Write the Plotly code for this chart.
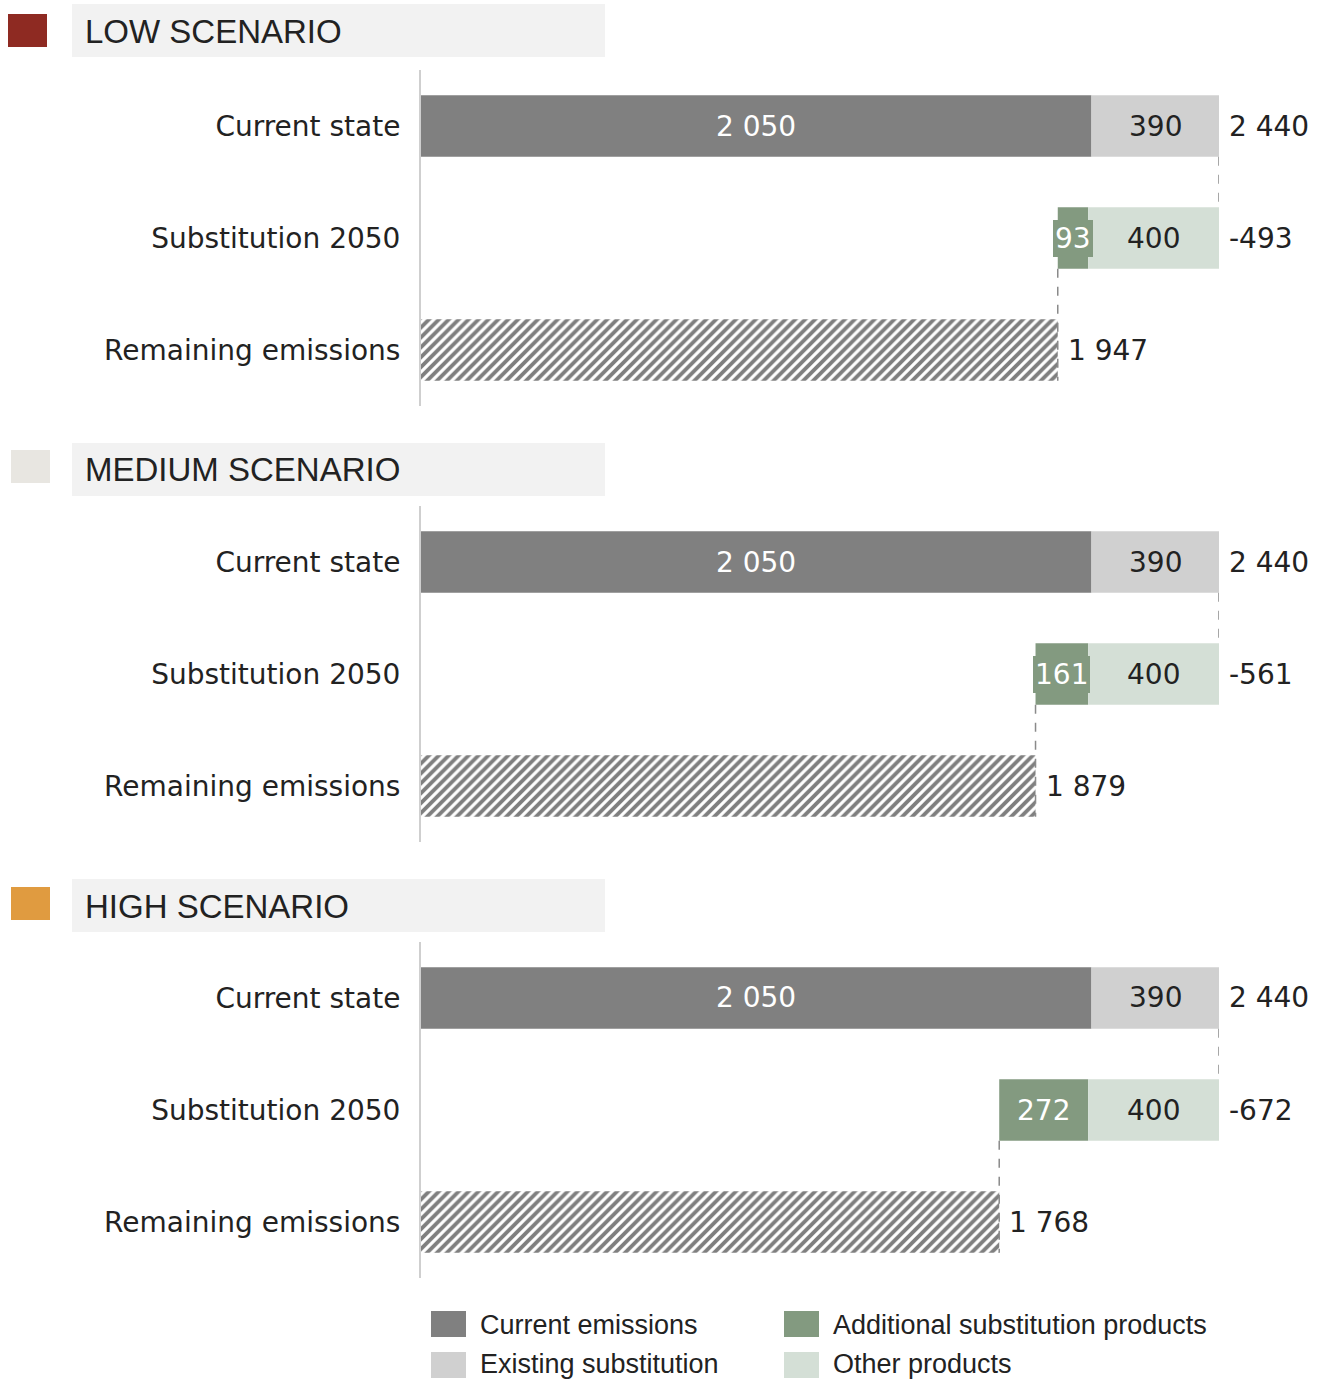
import plotly.graph_objects as go
from plotly.subplots import make_subplots

# ---- data -------------------------------------------------------------
scenarios = ["LOW SCENARIO", "MEDIUM SCENARIO", "HIGH SCENARIO"]
scenario_colors = ["#8e2a22", "#e8e6e1", "#e09b40"]
categories = ["Current state", "Substitution 2050", "Remaining emissions"]

current_emissions = [2050, 2050, 2050]
existing_substitution = [390, 390, 390]
other_products = [400, 400, 400]
additional_substitution = [93, 161, 272]

legend_names = ["Current emissions", "Additional substitution products",
                "Existing substitution", "Other products"]

# ---- styling ----------------------------------------------------------
W, H = 1330, 1380
C_CURRENT = "#808080"
C_EXISTING = "#d0d0d0"
C_ADDITIONAL = "#839a80"
C_OTHER = "#d4dfd6"
TXT = "#222222"
FONT = "DejaVu Sans"
NARROW = "Liberation Sans Narrow, Liberation Sans, Arial Narrow, sans-serif"
FS = 28
BAR_W = 0.55


def px_x(px):
    return px / W


def px_y(py):
    return 1 - py / H


def fmt(v):
    return f"{v:,}".replace(",", " ")


# plot areas (top pixel row of each panel) and header positions
panel_tops = [70, 506, 942]
band_tops = [4, 443, 879]
key_tops = [14, 450, 887]
key_lefts = [8, 11, 11]
panel_h = 336
x_left, x_right = 421, 1219

fig = make_subplots(rows=3, cols=1)

shapes = []
annotations = []

for i in range(3):
    row = i + 1
    total = current_emissions[i] + existing_substitution[i]
    reduction = other_products[i] + additional_substitution[i]
    remaining = total - reduction
    add_base = total - reduction
    other_base = total - other_products[i]

    # current state: emissions + existing substitution
    fig.add_trace(go.Bar(y=[categories[0]], x=[current_emissions[i]], base=[0],
                         orientation="h", width=BAR_W, marker_color=C_CURRENT,
                         marker_line_width=0, showlegend=False, hoverinfo="skip"),
                  row=row, col=1)
    fig.add_trace(go.Bar(y=[categories[0]], x=[existing_substitution[i]],
                         base=[current_emissions[i]], orientation="h", width=BAR_W,
                         marker_color=C_EXISTING, marker_line_width=0,
                         showlegend=False, hoverinfo="skip"),
                  row=row, col=1)
    # substitution 2050: additional + other products
    fig.add_trace(go.Bar(y=[categories[1]], x=[additional_substitution[i]],
                         base=[add_base], orientation="h", width=BAR_W,
                         marker_color=C_ADDITIONAL, marker_line_width=0,
                         showlegend=False, hoverinfo="skip"),
                  row=row, col=1)
    fig.add_trace(go.Bar(y=[categories[1]], x=[other_products[i]],
                         base=[other_base], orientation="h", width=BAR_W,
                         marker_color=C_OTHER, marker_line_width=0,
                         showlegend=False, hoverinfo="skip"),
                  row=row, col=1)
    # remaining emissions (hatched)
    fig.add_trace(go.Bar(y=[categories[2]], x=[remaining], base=[0],
                         orientation="h", width=BAR_W,
                         marker=dict(color="white", line_width=0,
                                     pattern=dict(shape="/", fgcolor="#000000",
                                                  bgcolor="white", size=7,
                                                  solidity=0.55)),
                         showlegend=False, hoverinfo="skip"),
                  row=row, col=1)

    xa = "x" if i == 0 else f"x{i + 1}"
    ya = "y" if i == 0 else f"y{i + 1}"

    # value labels
    lab = dict(xref=xa, yref=ya, showarrow=False,
               font=dict(family=FONT, size=FS, color=TXT))
    annotations += [
        dict(lab, x=current_emissions[i] / 2, y=categories[0], text=fmt(current_emissions[i]),
             font=dict(family=FONT, size=FS, color="white")),
        dict(lab, x=current_emissions[i] + existing_substitution[i] / 2, y=categories[0],
             text=fmt(existing_substitution[i])),
        dict(lab, x=total, y=categories[0], text=fmt(total), xanchor="left", xshift=8),
        dict(lab, x=add_base + additional_substitution[i] / 2, y=categories[1],
             text=fmt(additional_substitution[i]), bgcolor=C_ADDITIONAL, borderpad=2,
             borderwidth=0, font=dict(family=FONT, size=FS, color="white")),
        dict(lab, x=other_base + other_products[i] / 2, y=categories[1],
             text=fmt(other_products[i])),
        dict(lab, x=total, y=categories[1], text=f"-{reduction}", xanchor="left", xshift=8),
        dict(lab, x=remaining, y=categories[2], text=fmt(remaining), xanchor="left", xshift=8),
    ]

    # dashed waterfall connectors
    conn = dict(type="line", xref=xa, yref=ya,
                line=dict(color="#8a8a8a", width=1.5, dash="dash"), layer="above")
    shapes += [
        dict(conn, x0=total, x1=total, y0=0 + BAR_W / 2, y1=1 - BAR_W / 2),
        dict(conn, x0=remaining, x1=remaining, y0=1 + BAR_W / 2, y1=2 + BAR_W / 2),
    ]

    # scenario header: colour key + grey band + title
    bt = band_tops[i]
    kt = key_tops[i]
    kl = key_lefts[i]
    shapes += [
        dict(type="rect", xref="paper", yref="paper", x0=px_x(72), x1=px_x(605),
             y0=px_y(bt + 53), y1=px_y(bt), fillcolor="#f2f2f2", line_width=0,
             layer="below"),
        dict(type="rect", xref="paper", yref="paper", x0=px_x(kl), x1=px_x(kl + 39),
             y0=px_y(kt + 33), y1=px_y(kt), fillcolor=scenario_colors[i], line_width=0),
    ]
    annotations.append(dict(xref="paper", yref="paper", x=px_x(83), y=px_y(bt + 27),
                            xanchor="left", yanchor="middle", showarrow=False,
                            text=scenarios[i],
                            font=dict(family=NARROW, size=33, color=TXT)))

    # axes
    fig.update_xaxes(row=row, col=1, range=[0, 2440], domain=[px_x(x_left), px_x(x_right)],
                     visible=False, fixedrange=True)
    fig.update_yaxes(row=row, col=1, domain=[px_y(panel_tops[i] + panel_h), px_y(panel_tops[i])],
                     categoryorder="array", categoryarray=categories,
                     range=[2.5, -0.5], showline=True, linecolor="#cfcfcf", linewidth=2,
                     showgrid=False, zeroline=False, ticks="", ticklabelstandoff=13,
                     tickfont=dict(family=FONT, size=FS, color=TXT))

# legend
legend_colors = [C_CURRENT, C_ADDITIONAL, C_EXISTING, C_OTHER]
legend_x = [431, 784]
legend_y = [1311, 1352]
for k, (name, col) in enumerate(zip(legend_names, legend_colors)):
    lx = legend_x[k % 2]
    ly = legend_y[k // 2]
    shapes.append(dict(type="rect", xref="paper", yref="paper", x0=px_x(lx), x1=px_x(lx + 35),
                       y0=px_y(ly + 26), y1=px_y(ly), fillcolor=col, line_width=0))
    annotations.append(dict(xref="paper", yref="paper", x=px_x(lx + 47),
                            y=px_y(ly + (14 if k < 2 else 12)),
                            xanchor="left", yanchor="middle", showarrow=False, text=name,
                            font=dict(family=NARROW, size=27, color=TXT)))

fig.update_layout(width=W, height=H, margin=dict(l=0, r=0, t=0, b=0),
                  paper_bgcolor="white", plot_bgcolor="white", barmode="overlay",
                  showlegend=False, shapes=shapes, annotations=annotations,
                  font=dict(family=FONT, color=TXT))

fig.write_html("out.html")
